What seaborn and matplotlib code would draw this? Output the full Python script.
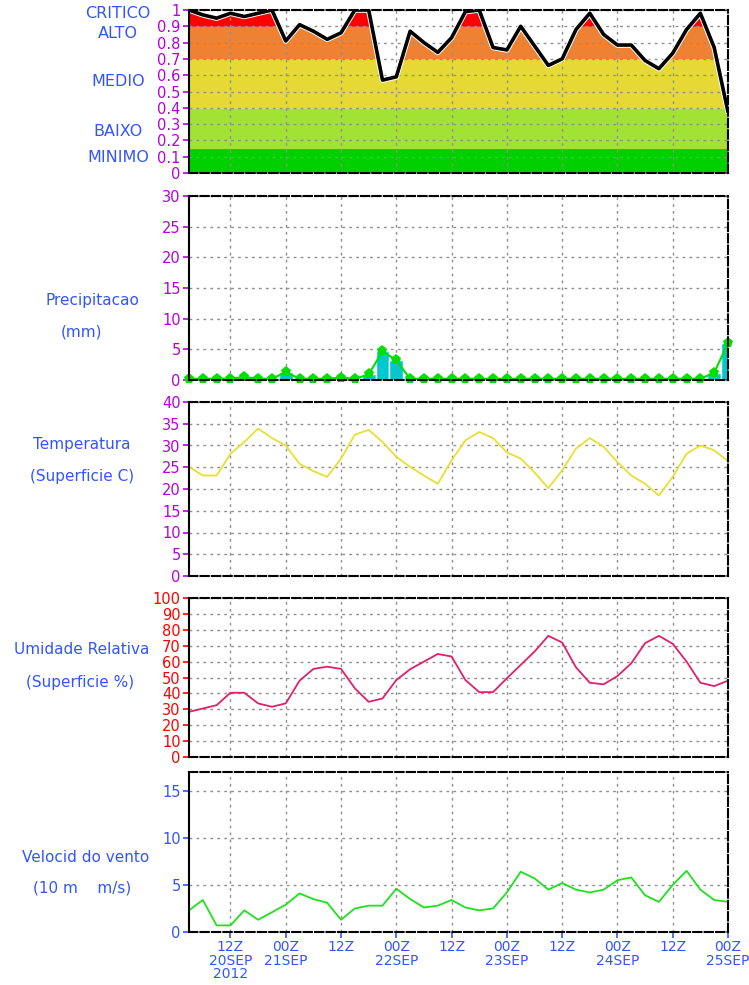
import numpy as np
import pandas as pd
import matplotlib
matplotlib.use("Agg")
import matplotlib.pyplot as plt
import matplotlib.patheffects as pe
import seaborn as sns

# hours since 03Z 20SEP2012, every 3 h up to 00Z 25SEP
hours = np.arange(0, 118, 3)

risk = [1.00, 0.97, 0.95, 0.98, 0.96, 0.98, 1.00, 0.81, 0.91, 0.87,
        0.82, 0.86, 1.00, 1.00, 0.57, 0.59, 0.87, 0.80, 0.74, 0.83,
        0.99, 1.00, 0.77, 0.755, 0.90, 0.78, 0.66, 0.70, 0.88, 0.98,
        0.85, 0.785, 0.785, 0.69, 0.64, 0.735, 0.88, 0.98, 0.77, 0.375]

precip = [0.2, 0.2, 0.2, 0.2, 0.5, 0.2, 0.2, 1.3, 0.2, 0.2,
          0.2, 0.4, 0.2, 0.9, 4.7, 3.2, 0.2, 0.2, 0.2, 0.2,
          0.2, 0.2, 0.2, 0.2, 0.2, 0.2, 0.2, 0.2, 0.2, 0.2,
          0.2, 0.2, 0.2, 0.2, 0.2, 0.2, 0.2, 0.2, 1.2, 6.0]

temp = [25.1, 23.1, 23.1, 28.1, 30.8, 33.9, 31.7, 30.0, 25.8, 24.1,
        22.8, 27.0, 32.5, 33.6, 30.8, 27.4, 25.1, 23.1, 21.2, 26.6,
        31.2, 33.1, 31.7, 28.4, 27.0, 23.8, 20.2, 24.3, 29.3, 31.7,
        29.7, 26.2, 23.1, 21.2, 18.5, 22.8, 28.1, 30.0, 28.9, 26.4]

rh = [28.4, 30.5, 32.6, 40.4, 40.4, 33.7, 31.6, 33.7, 48.0, 55.4,
      56.8, 55.4, 43.2, 34.7, 36.8, 48.4, 55.2, 60.0, 64.8, 63.2,
      48.4, 40.8, 40.8, 49.5, 57.9, 66.3, 76.2, 72.0, 56.4, 46.7,
      45.7, 50.9, 58.9, 71.6, 76.2, 71.2, 60.0, 46.7, 44.6, 48.0]

wind = [2.3, 3.4, 0.7, 0.7, 2.3, 1.3, 2.1, 2.9, 4.1, 3.5,
        3.1, 1.3, 2.5, 2.8, 2.8, 4.6, 3.5, 2.6, 2.8, 3.4,
        2.6, 2.3, 2.5, 4.2, 6.4, 5.7, 4.5, 5.2, 4.5, 4.2,
        4.5, 5.5, 5.8, 3.9, 3.2, 5.0, 6.5, 4.5, 3.4, 3.2]

tick_hours = np.arange(9, 118, 12)
tick_labels = ["12Z\n20SEP\n2012", "00Z\n21SEP", "12Z", "00Z\n22SEP", "12Z",
               "00Z\n23SEP", "12Z", "00Z\n24SEP", "12Z", "00Z\n25SEP"]

risk_bounds = [0, 0.15, 0.4, 0.7, 0.9, 1.0]
risk_colors = ["#00d000", "#a2e232", "#e6d936", "#ef8232", "#ff0000"]
risk_names = ["CRITICO", "ALTO", "MEDIO", "BAIXO", "MINIMO"]
risk_name_y = [13, 33, 82, 132, 157]

df = pd.DataFrame({"hora": hours, "risco": risk, "chuva": precip,
                   "temp": temp, "ur": rh, "vento": wind})

sns.set_style("white")
plt.rcParams["font.family"] = ["DejaVu Sans"]

W, H = 749, 985
fig = plt.figure(figsize=(W / 100, H / 100), dpi=100)

purple = "#b800dc"
blue = "#3355ff"
red = "#ff0000"
grid_kw = dict(color="#909090", lw=1, ls=(0, (2, 3)))


def make_ax(top, bottom):
    ax = fig.add_axes([189 / W, 1 - bottom / H, 539 / W, (bottom - top) / H])
    ax.set_xlim(0, 117)
    for s in ["top", "right", "bottom"]:
        ax.spines[s].set_linestyle((0, (4, 1.5)))
    for s in ax.spines.values():
        s.set_color("black")
        s.set_linewidth(1.5)
        s.set_zorder(6)
    return ax


def style_y(ax, ticks, color, labels=None):
    ax.set_yticks(ticks)
    if labels is not None:
        ax.set_yticklabels(labels)
    ax.tick_params(axis="y", colors=color, labelsize=10.5, length=4,
                   width=1.2, pad=2, left=True)
    for t in ticks:
        ax.axhline(t, zorder=3, **grid_kw)
    for t in tick_hours:
        ax.axvline(t, zorder=3, **grid_kw)
    ax.set_xticks([])
    ax.set_xlabel("")
    ax.set_ylabel("")


# panel 1: risk index
ax1 = make_ax(10, 173)
ax1.set_ylim(0, 1)
xf = np.linspace(0, 117, 2000)
rf = np.interp(xf, hours, risk)
for lo, hi, c in zip(risk_bounds[:-1], risk_bounds[1:], risk_colors):
    ax1.fill_between(xf, lo, np.clip(rf, lo, hi), color=c, lw=0, zorder=1)
sns.lineplot(data=df, x="hora", y="risco", ax=ax1, color="black", lw=2.6,
             zorder=5, path_effects=[pe.Stroke(linewidth=4, foreground="white"), pe.Normal()])
style_y(ax1, np.round(np.arange(0, 1.01, 0.1), 1), purple,
        ["0"] + [f"{v:.1f}" for v in np.arange(0.1, 0.95, 0.1)] + ["1"])
for name, y in zip(risk_names, risk_name_y):
    fig.text(118 / W, 1 - y / H, name, color=blue, fontsize=11.5,
             ha="center", va="center")

# panel 2: precipitation
ax2 = make_ax(196, 380)
ax2.set_ylim(0, 30)
ax2.bar(df["hora"], df["chuva"], width=3, color="#00c8d0", zorder=2)
sns.lineplot(data=df, x="hora", y="chuva", ax=ax2, color="#00e000", lw=1.5,
             marker="p", markersize=8, markeredgewidth=0, zorder=4, clip_on=False)
style_y(ax2, np.arange(0, 31, 5), purple)
fig.text(92 / W, 1 - 300 / H, "Precipitacao", color=blue, fontsize=11,
         ha="center", va="center")
fig.text(82 / W, 1 - 332 / H, "(mm)", color=blue, fontsize=11,
         ha="center", va="center")

# panel 3: temperature
ax3 = make_ax(402, 576)
ax3.set_ylim(0, 40)
sns.lineplot(data=df, x="hora", y="temp", ax=ax3, color="#e8e030", lw=1.3, zorder=4)
style_y(ax3, np.arange(0, 41, 5), purple)
fig.text(82 / W, 1 - 445 / H, "Temperatura", color=blue, fontsize=11,
         ha="center", va="center")
fig.text(82 / W, 1 - 476 / H, "(Superficie C)", color=blue, fontsize=11,
         ha="center", va="center")

# panel 4: relative humidity
ax4 = make_ax(598, 757)
ax4.set_ylim(0, 100)
sns.lineplot(data=df, x="hora", y="ur", ax=ax4, color="#e0206a", lw=1.3, zorder=4)
style_y(ax4, np.arange(0, 101, 10), red)
fig.text(82 / W, 1 - 650 / H, "Umidade Relativa", color=blue, fontsize=11,
         ha="center", va="center")
fig.text(80 / W, 1 - 682 / H, "(Superficie %)", color=blue, fontsize=11,
         ha="center", va="center")

# panel 5: wind speed
ax5 = make_ax(772, 932)
ax5.set_ylim(0, 17)
sns.lineplot(data=df, x="hora", y="vento", ax=ax5, color="#20e020", lw=1.3, zorder=4)
style_y(ax5, [0, 5, 10, 15], blue)
ax5.set_xticks(tick_hours)
ax5.set_xticklabels(tick_labels, linespacing=0.95)
ax5.tick_params(axis="x", colors=blue, labelsize=10, length=4, width=1.2,
                pad=2, bottom=True)
fig.text(86 / W, 1 - 857 / H, "Velocid do vento", color=blue, fontsize=11,
         ha="center", va="center")
fig.text(82 / W, 1 - 888 / H, "(10 m    m/s)", color=blue, fontsize=11,
         ha="center", va="center")

fig.savefig("out.png", dpi=100, facecolor="white")
